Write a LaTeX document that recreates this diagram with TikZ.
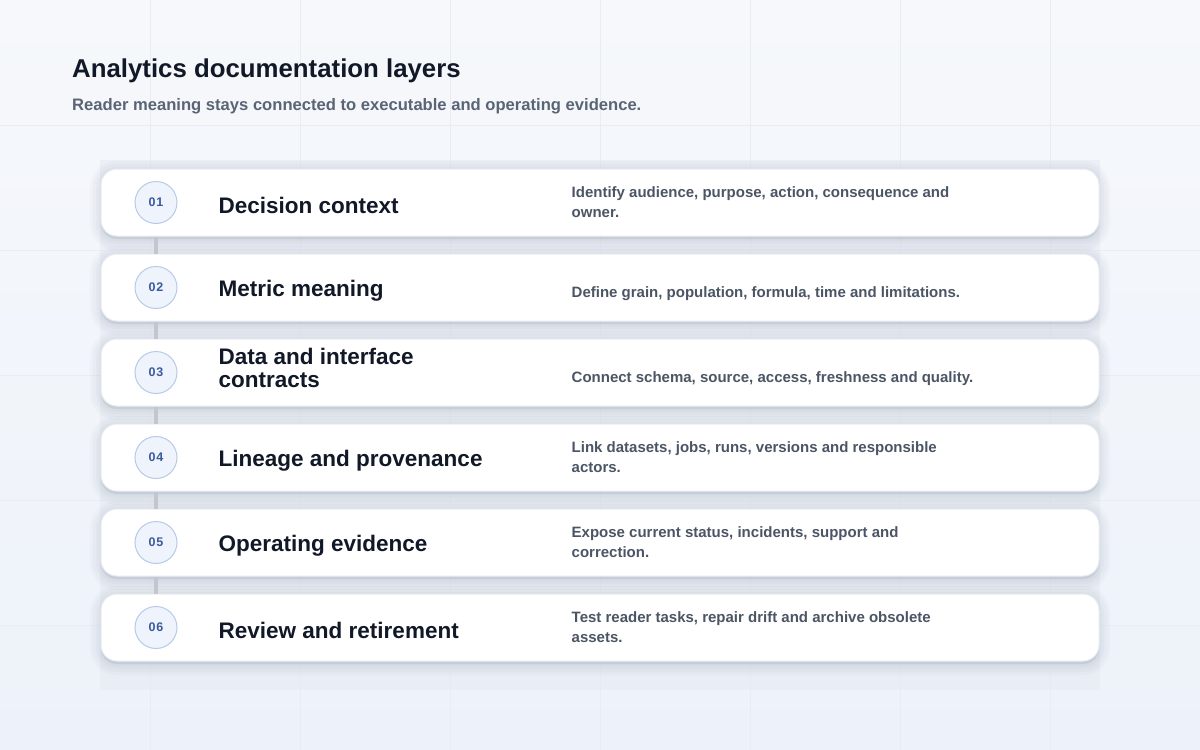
\documentclass[tikz,border=0pt]{standalone}
\usepackage{fontspec}
\setmainfont{Liberation Sans}
\usetikzlibrary{positioning}
\definecolor{bgtop}{HTML}{F6F8FB}
\definecolor{bgbot}{HTML}{EDF2FA}
\definecolor{gridcol}{HTML}{E9EDF3}
\definecolor{panelcol}{HTML}{E6E9F0}
\definecolor{cardline}{HTML}{E8ECF2}
\definecolor{shadowcol}{HTML}{5A6A8A}
\definecolor{inkdark}{HTML}{111827}
\definecolor{inkgray}{HTML}{4B5565}
\definecolor{subgray}{HTML}{5A6475}
\definecolor{numfill}{HTML}{EEF3FC}
\definecolor{numline}{HTML}{B7CAE8}
\definecolor{numtext}{HTML}{3A5A9E}
\definecolor{linkcol}{HTML}{C3C6CE}
\begin{document}
\begin{tikzpicture}[x=1pt,y=-1pt,
    softshade/.style={preaction={draw=shadowcol, fill=shadowcol, draw opacity=0.03,
        fill opacity=0.03, line width=#1, transform canvas={yshift=-3pt}}},
    card/.style={draw=cardline, line width=1pt, fill=white, rounded corners=16pt,
        minimum width=998pt, minimum height=67pt,
        softshade=22pt, softshade=16pt, softshade=10pt, softshade=5pt},
    numdot/.style={circle, draw=numline, line width=1pt, fill=numfill, minimum size=42pt,
        inner sep=0pt, text=numtext,
        font=\bfseries\fontsize{12.5}{12}\selectfont\addfontfeature{LetterSpace=8}},
    cardtitle/.style={anchor=west, align=left, inner sep=0pt, text=inkdark,
        font=\bfseries\fontsize{22.5}{22.5}\selectfont},
    carddesc/.style={anchor=west, align=left, inner sep=0pt, text=inkgray,
        font=\bfseries\fontsize{15}{20}\selectfont},
    link/.style={draw=linkcol, line width=4pt}]
\useasboundingbox (0,0) rectangle (1200,750);
\shade[top color=bgtop, bottom color=bgbot] (0,0) rectangle (1200,750);
\foreach \x in {150,300,...,1050} {
    \draw[gridcol, line width=1pt] (\x,0) -- (\x,750);
}
\foreach \y in {125,250,...,625} {
    \draw[gridcol, line width=1pt] (0,\y) -- (1200,\y);
}
\fill[panelcol, opacity=0.5] (100,160) rectangle (1100,690);

\node[anchor=west, inner sep=0pt, text=inkdark, font=\bfseries\fontsize{25.8}{26}\selectfont]
    (title) at (72,71) {Analytics documentation layers};
\node[anchor=west, inner sep=0pt, text=subgray, font=\bfseries\fontsize{16.6}{17}\selectfont]
    (subtitle) at (72,106.5) {Reader meaning stays connected to executable and operating evidence.};

\foreach \i/\t/\h/\d/\s in {
    1/{Decision context}/3/{Identify audience, purpose, action, consequence and\\owner.}/0,
    2/{Metric meaning}/3/{Define grain, population, formula, time and limitations.}/6,
    3/{Data and interface\\contracts}/-4.5/{Connect schema, source, access, freshness and quality.}/6,
    4/{Lineage and provenance}/3/{Link datasets, jobs, runs, versions and responsible\\actors.}/0,
    5/{Operating evidence}/3/{Expose current status, incidents, support and\\correction.}/0,
    6/{Review and retirement}/3/{Test reader tasks, repair drift and archive obsolete\\assets.}/0} {
    \node[card] (card\i) at (600,{202.5+85*(\i-1)}) {};
    \node[numdot, anchor=west, right=34pt of card\i.west] (num\i) {0\i};
    \node[cardtitle, right=118pt of card\i.west, yshift=-\h pt] (name\i) {\t};
    \node[carddesc, right=471pt of card\i.west, yshift=-\s pt] (desc\i) {\d};
}

\foreach \i/\j in {1/2,2/3,3/4,4/5,5/6} {
    \draw[link] (card\i.south -| num\i) -- (card\j.north -| num\i);
}
\end{tikzpicture}
\end{document}
